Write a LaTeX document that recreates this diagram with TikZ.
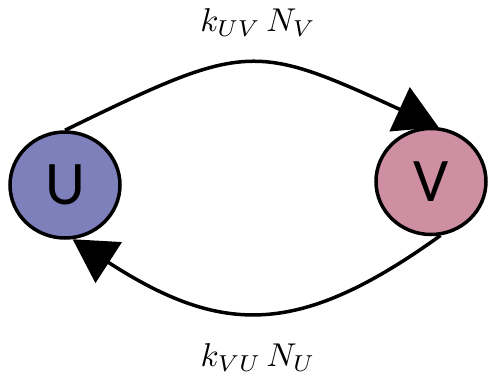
\documentclass[tikz,border=0pt]{standalone}
\usepackage{graphicx}
\usepackage{fontspec}
\newfontfamily\circfont{Carlito}
\usepackage{tikz}
\usetikzlibrary{arrows.meta,shapes.geometric}
\definecolor{ublue}{HTML}{7D80BB}
\definecolor{vpink}{HTML}{CF8FA2}
\newcommand{\ratelabel}[1]{\scalebox{3.3}{$#1$}}
\tikzset{arr/.style={-{Triangle[length=43pt,width=48pt]},line width=3.5pt,draw=black},
  species/.style={ellipse,draw=black,line width=3.5pt,minimum width=110pt,minimum height=106pt,inner sep=0pt,font=\circfont\fontsize{62}{62}\selectfont},
  rate/.style={anchor=base,inner sep=0pt,font=\fontsize{10}{12}\selectfont}}

\begin{document}
\begin{tikzpicture}[x=1pt,y=-1pt]
\useasboundingbox (0,0) rectangle (488,382);
\node[species,fill=ublue] (U) at (65,185) {U};
\node[species,fill=vpink] (V) at (431,181.5) {V};
\node[rate] (kuv) at (258,31.7) {\ratelabel{k_{UV}\,N_V}};
\node[rate] (kvu) at (258,367) {\ratelabel{k_{VU}\,N_U}};
\draw[arr] (U.north) .. controls (246,42) and (253,42) .. (V.82);
\draw[arr] (V.-80) .. controls (300,336.5) and (223,336.5) .. (U.-82);
\end{tikzpicture}
\end{document}
